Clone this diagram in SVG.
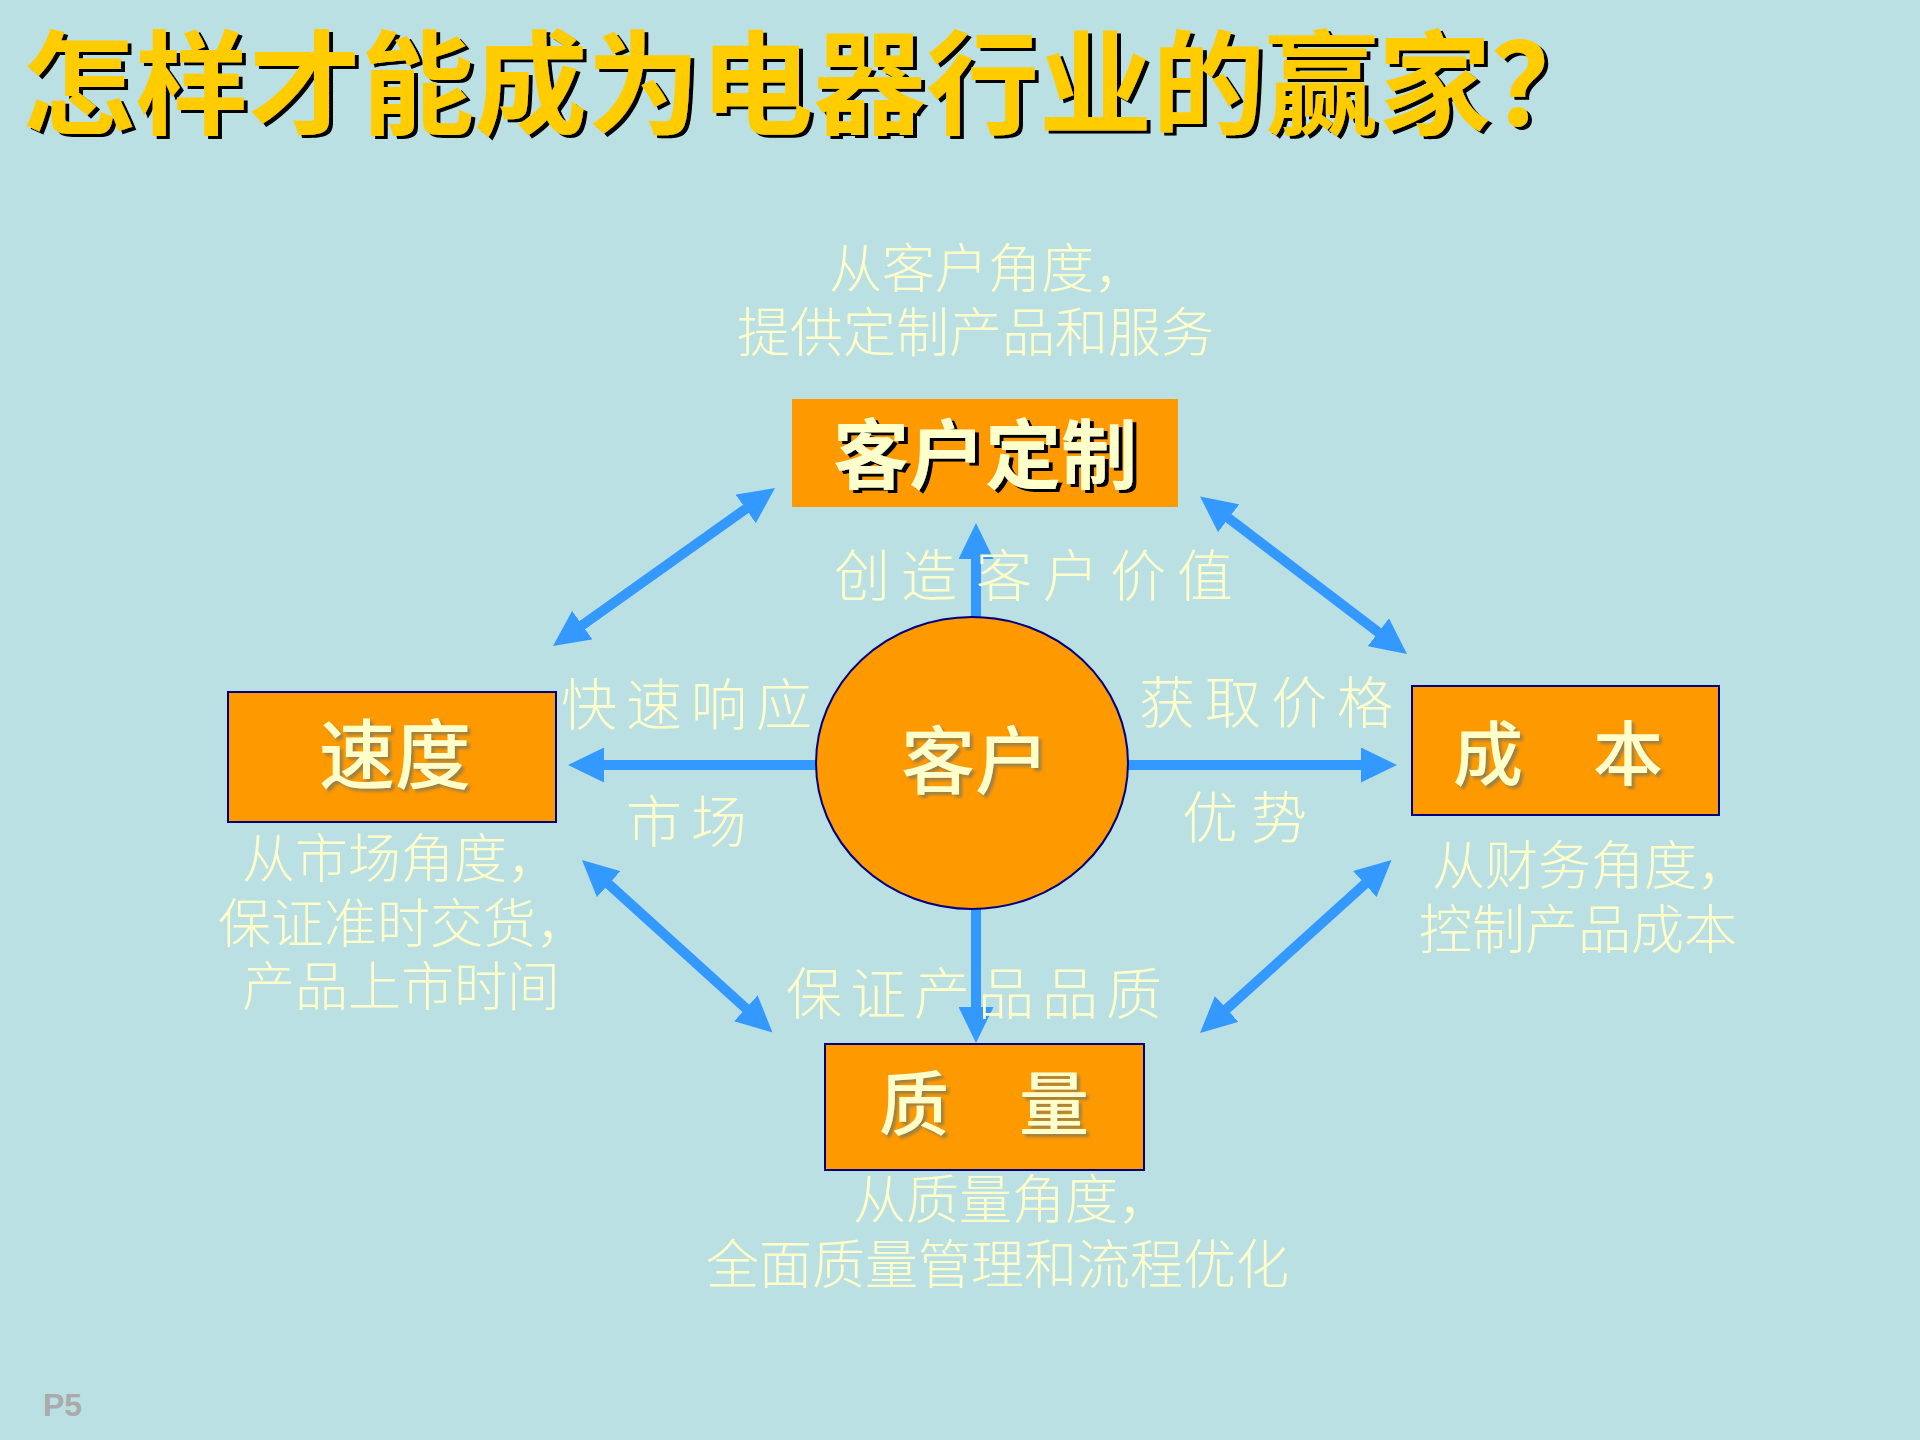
<svg xmlns="http://www.w3.org/2000/svg" width="1920" height="1440" viewBox="0 0 1920 1440">
  <defs>
    <style>
      .bg { fill: #BBE0E3; }
      .title { font-family: "Noto Sans CJK SC", "Noto Sans CJK TC", sans-serif; font-weight: bold; font-size: 113px; fill: #FFCC00; }
      .box { fill: #FF9900; }
      .boxline { fill: #FF9900; stroke: #000080; stroke-width: 2; }
      .ntxt { font-family: "Noto Sans CJK SC", "Noto Sans CJK TC", sans-serif; font-weight: 500; fill: #FFFFCC; text-anchor: middle; }
      .btxt { font-family: "Noto Sans CJK SC", "Noto Sans CJK TC", sans-serif; font-weight: bold; fill: #FFFFCC; text-anchor: middle; }
      .lbl { font-family: "Noto Sans CJK SC", "Noto Sans CJK TC", sans-serif; font-weight: 300; font-size: 56px; fill: #FFFFCC; }
      .desc { font-family: "Noto Sans CJK SC", "Noto Sans CJK TC", sans-serif; font-weight: 300; font-size: 53px; fill: #FFFFCC; }
      .conn { stroke: #3399FF; stroke-width: 10; fill: none; marker-end: url(#head); }
      .dbl { marker-start: url(#head); }
      .page { font-family: "Liberation Sans", Arial, sans-serif; font-weight: bold; font-size: 32px; fill: #AAAAAA; }
    </style>
    <marker id="head" viewBox="0 0 36 35" refX="14" refY="17.5" markerWidth="3.6" markerHeight="3.5" markerUnits="strokeWidth" orient="auto-start-reverse">
      <path d="M0,0 L36,17.5 L0,35 Z" fill="#3399FF"/>
    </marker>
    <filter id="hardShadow" x="-5%" y="-20%" width="115%" height="150%">
      <feDropShadow dx="4" dy="3" stdDeviation="0.4" flood-color="#000000" flood-opacity="1"/>
    </filter>
    <filter id="softShadow" x="-10%" y="-10%" width="130%" height="140%">
      <feDropShadow dx="3" dy="3" stdDeviation="1.6" flood-color="#8C7A50" flood-opacity="0.85"/>
    </filter>
  </defs>

  <rect class="bg" x="0" y="0" width="1920" height="1440"/>

  <g id="title">
    <text class="title" x="22" y="125" filter="url(#hardShadow)">怎样才能成为电器行业的赢家？</text>
  </g>

  <g id="connectors">
    <line class="conn" x1="976" y1="617" x2="976" y2="545"/>
    <line class="conn" x1="816" y1="765" x2="590" y2="765"/>
    <line class="conn" x1="1128" y1="765" x2="1375" y2="765"/>
    <line class="conn" x1="976" y1="909" x2="976" y2="1021"/>
    <line class="conn dbl" x1="570.9" y1="633.2" x2="757.1" y2="500.8"/>
    <line class="conn dbl" x1="1217.5" y1="509.8" x2="1389.5" y2="640.7"/>
    <line class="conn dbl" x1="598.3" y1="874.8" x2="756.2" y2="1017.7"/>
    <line class="conn dbl" x1="1375.2" y1="874.7" x2="1216.3" y2="1018.3"/>
  </g>

  <g id="connector-labels">
    <text class="lbl" x="834" y="596" letter-spacing="11">创造<tspan dx="8">客户价值</tspan></text>
    <text class="lbl" x="561" y="725" letter-spacing="9">快速响应</text>
    <text class="lbl" x="626" y="842" letter-spacing="9">市场</text>
    <text class="lbl" x="1139" y="723" letter-spacing="10">获取价格</text>
    <text class="lbl" x="1182" y="838" letter-spacing="13">优势</text>
    <text class="lbl" x="786" y="1014" letter-spacing="8">保证产品品质</text>
  </g>

  <g id="node-custom">
    <rect class="box" x="792" y="399" width="386" height="108"/>
    <text class="btxt" x="985" y="483" font-size="76" filter="url(#hardShadow)">客户定制</text>
    <text class="desc" x="829" y="288">从客户角度，</text>
    <text class="desc" x="737" y="352">提供定制产品和服务</text>
  </g>

  <g id="node-customer">
    <ellipse class="boxline" cx="972" cy="763" rx="156" ry="146"/>
    <text class="ntxt" x="975" y="788" font-size="74" filter="url(#softShadow)">客户</text>
  </g>

  <g id="node-speed">
    <rect class="boxline" x="228" y="692" width="328" height="130"/>
    <text class="ntxt" x="395" y="783" font-size="76" filter="url(#softShadow)">速度</text>
    <text class="desc" x="242" y="878">从市场角度，</text>
    <text class="desc" x="218" y="943">保证准时交货，</text>
    <text class="desc" x="242" y="1006">产品上市时间</text>
  </g>

  <g id="node-cost">
    <rect class="boxline" x="1412" y="686" width="307" height="129"/>
    <text class="ntxt" x="1558" y="780" font-size="70" filter="url(#softShadow)">成　本</text>
    <text class="desc" x="1432" y="885">从财务角度，</text>
    <text class="desc" x="1419" y="949">控制产品成本</text>
  </g>

  <g id="node-quality">
    <rect class="boxline" x="825" y="1044" width="319" height="126"/>
    <text class="ntxt" x="984" y="1130" font-size="70" filter="url(#softShadow)">质　量</text>
    <text class="desc" x="853" y="1219">从质量角度，</text>
    <text class="desc" x="706" y="1284">全面质量管理和流程优化</text>
  </g>

  <g id="page-number">
    <text class="page" x="43" y="1416">P5</text>
  </g>
</svg>
